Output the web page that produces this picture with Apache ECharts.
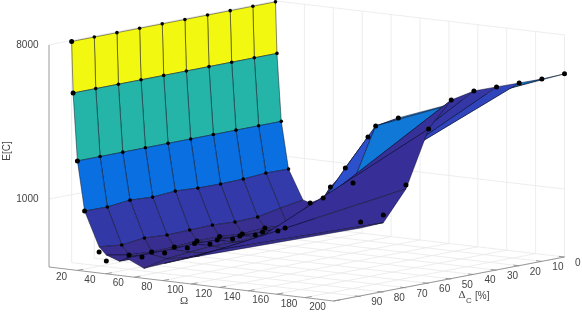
<!DOCTYPE html>
<html><head><meta charset="utf-8">
<style>html,body{margin:0;padding:0;background:#fff}#c{width:582px;height:312px}</style>
<script src="https://cdn.jsdelivr.net/npm/echarts@6/dist/echarts.min.js"></script>
</head><body><div id="c"></div>
<script>
// ---------- data ----------
var omegaRows = [0, 1, 4, 9, 19, 24, 33, 38, 50, 64, 85, 200];
var deltaCols = [90, 80, 70, 60, 50, 40, 30, 20, 10, 0];
var omegaTicks = [20, 40, 60, 80, 100, 120, 140, 160, 180, 200];
var deltaTicks = [0, 10, 20, 30, 40, 50, 60, 70, 80, 90];
var zTicks = [1000, 8000];
var surfR1  = [7900, 7900, 7900, 7900, 7900, 7900, 7900, 7900, 7900, 7900];
var surfR2  = [3950, 3950, 3950, 3950, 3950, 3950, 3950, 3950, 3950, 3950];
var surfR3  = [1590, 1590, 1590, 1590, 1590, 1590, 1590, 1590, 1590, 1590];
var surfR4  = [818, 815, 842, 827, 845, 830, 826, 832, 850, 845];
var surfR5  = [517, 499, 517, 507, 511, 515, 506, 510, 542, 570];
var surfR6  = [468, 442, 433, 437, 446, 446, 436, 445, 437, 554];
var surfR7  = [440, 438, 436, 440, 437, 441, 438, 436, 428, 604];
var surfR8  = [464, 464, 464, 472, 467, 465, 462, 460, 452, 710];
var surfR9  = [415, 445, 458, 468, 465, 475, 499, 510, 580, 938];
var surfR10 = [458, 465, 468, 466, 483, 500, 560, 702, 1033, 1478];
var surfR11 = [525, 543, 562, 583, 604, 659, 782, 940, 1910, 2005];
var surfR12 = [1009, 1021, 1517, 3210, 4470, 4760, 4740, 4708, 4680, 4730];
var surface = [surfR1, surfR2, surfR3, surfR4, surfR5, surfR6, surfR7, surfR8, surfR9, surfR10, surfR11, surfR12];
var _ = null;
var dotR1  = surfR1;
var dotR2  = surfR2;
var dotR3  = surfR3;
var dotR4  = surfR4;
var dotR5  = [482, 499, 517, 507, 511, 515, 506, 510, _, _];
var dotR6  = [432, 442, 433, 437, 446, 446, 436, 445, _, 554];
var dotR7  = [_, 438, 436, 440, 437, 441, 438, 436, _, 604];
var dotR8  = [_, _, _, 472, 467, 465, 462, 460, _, 710];
var dotR10 = [_, _, _, _, _, _, _, _, 1033, 1478];
var dotR11 = [_, _, _, _, _, _, _, 940, 1910, 2005];
var dotR12 = [1094, 1134, 1600, 3210, 4470, 4760, 4740, 4708, 4680, 4730];
var dots = [dotR1, dotR2, dotR3, dotR4, dotR5, dotR6, dotR7, dotR8, null, dotR10, dotR11, dotR12];
var colorZ = [400, 620, 830, 1033, 1400, 1590, 2000, 3950, 8000];
var colorHex = ['#3a2d86', '#36309a', '#3339a8', '#2d50cc', '#1f5fd6', '#0a6fe0', '#127cd6', '#25b5a8', '#f8fa0d'];

// ---------- projection of the 3-D axes box onto the page ----------
var Z_MIN = 400, Z_MAX = 8000;
function proj(om, de, z) {
  return [275.5 + 1.445 * om - 2.265 * de,
          223 + 0.17 * om + 0.44 * de - 170.7 * Math.log10(z / Z_MIN)];
}
// the box's front corner sits slightly inside the extrapolated data plane
function boxProj(om, de, z) {
  var p = proj(om, de, z);
  if (de > 90) p[0] -= (om / 200) * (de - 90) * 0.45;
  return p;
}
function rgb(h) { return [1, 3, 5].map(function (p) { return parseInt(h.substr(p, 2), 16); }); }
function colorOf(z) {
  for (var s = 1; s < colorZ.length; s++) {
    if (z <= colorZ[s]) {
      var t = (z - colorZ[s - 1]) / (colorZ[s] - colorZ[s - 1]);
      var a = rgb(colorHex[s - 1]), b = rgb(colorHex[s]);
      return 'rgb(' + a.map(function (v, n) { return Math.round(v + (b[n] - v) * t); }).join(',') + ')';
    }
  }
  return colorHex[colorHex.length - 1];
}

// ---------- box lines ----------
var gridLines = [];
function seg(o1, d1, z1, o2, d2, z2, kind) { gridLines.push([o1, d1, z1, o2, d2, z2, kind]); }
omegaTicks.forEach(function (o) {
  seg(o, 0, Z_MIN, o, 100, Z_MIN, 'g');
  seg(o, 0, Z_MIN, o, 0, Z_MAX, 'g');
});
deltaTicks.forEach(function (d) {
  seg(0, d, Z_MIN, 200, d, Z_MIN, 'g');
  seg(0, d, Z_MIN, 0, d, Z_MAX, 'g');
});
zTicks.forEach(function (z) {
  seg(0, 100, z, 0, 0, z, 'g');
  seg(0, 0, z, 200, 0, z, 'g');
});
seg(0, 100, Z_MIN, 200, 100, Z_MIN, 'a');
seg(200, 100, Z_MIN, 200, 0, Z_MIN, 'a');
seg(0, 100, Z_MIN, 0, 100, Z_MAX, 'a');
omegaTicks.forEach(function (o) { seg(o, 100, Z_MIN, o, 97.5, Z_MIN, 'a'); });
deltaTicks.forEach(function (d) { seg(200, d, Z_MIN, 196, d, Z_MIN, 'a'); });

// ---------- surface quads, far to near ----------
var quads = [];
for (var i = 0; i < omegaRows.length - 1; i++) {
  for (var j = deltaCols.length - 2; j >= 0; j--) quads.push([i, j]);
}

// ---------- dots ----------
var dotData = [];
dots.forEach(function (row, r) {
  if (!row) return;
  row.forEach(function (z, k) {
    if (z === null) return;
    var big = (k === 0 && r < 6) || r >= 5;
    dotData.push({ value: proj(omegaRows[r], deltaCols[k], z), symbolSize: big ? 5 : 3.6 });
  });
});

// ---------- tick labels ----------
var FONT = '"Liberation Sans", Arial, sans-serif';
var TXT = '#444';
var texts = [];
omegaTicks.forEach(function (o) {
  var p = boxProj(o, 100, Z_MIN);
  texts.push({ t: String(o), x: p[0] - 16, y: p[1] + 6.5, a: 'center' });
});
deltaTicks.forEach(function (d) {
  var p = proj(200, d, Z_MIN);
  texts.push({ t: String(d), x: p[0] + 10.5, y: p[1] + 6, a: 'left' });
});
zTicks.forEach(function (z) {
  var p = boxProj(0, 100, z);
  texts.push({ t: String(z), x: 38.5, y: p[1], a: 'right' });
});
texts.push({ t: 'Ω', x: 184, y: 301, a: 'center', f: '"Liberation Serif", serif', s: 11 });
texts.push({ t: 'Δ', x: 462, y: 295.5, a: 'center', s: 11, f: '"Liberation Serif", serif' });
texts.push({ t: 'C', x: 469, y: 300.5, a: 'center', s: 8 });
texts.push({ t: '[%]', x: 475, y: 296, a: 'left' });
texts.push({ t: 'E[C]', x: 7, y: 151, a: 'center', r: Math.PI / 2 });

function pt(api, p) { return api.coord(p); }

var chart = echarts.init(document.getElementById('c'), null, { renderer: 'canvas' });
chart.setOption({
  animation: false,
  backgroundColor: '#fff',
  grid: { left: 0, right: 0, top: 0, bottom: 0 },
  xAxis: { type: 'value', min: 0, max: 582, show: false },
  yAxis: { type: 'value', min: 0, max: 312, inverse: true, show: false },
  series: [
    {
      type: 'custom', coordinateSystem: 'cartesian2d', silent: true, clip: false,
      data: gridLines.map(function (g, n) { return [n]; }),
      renderItem: function (params, api) {
        var g = gridLines[api.value(0)];
        var a = pt(api, boxProj(g[0], g[1], g[2])), b = pt(api, boxProj(g[3], g[4], g[5]));
        return {
          type: 'line', shape: { x1: a[0], y1: a[1], x2: b[0], y2: b[1] },
          style: { stroke: g[6] === 'a' ? '#8f8f8f' : '#e9e9e9', lineWidth: g[6] === 'a' ? 0.9 : 0.8 }
        };
      }
    },
    {
      type: 'custom', coordinateSystem: 'cartesian2d', silent: true, clip: false,
      data: quads,
      renderItem: function (params, api) {
        var r = api.value(0), k = api.value(1);
        var pts = [[r, k], [r + 1, k], [r + 1, k + 1], [r, k + 1]].map(function (c) {
          return pt(api, proj(omegaRows[c[0]], deltaCols[c[1]], surface[c[0]][c[1]]));
        });
        return {
          type: 'polygon', shape: { points: pts },
          style: { fill: colorOf(surface[r][k + 1]), stroke: 'rgba(10,10,30,0.8)', lineWidth: 0.6, lineJoin: 'round' }
        };
      }
    },
    {
      type: 'scatter', coordinateSystem: 'cartesian2d', silent: true, clip: false,
      data: dotData, itemStyle: { color: '#000', opacity: 1 }
    },
    {
      type: 'custom', coordinateSystem: 'cartesian2d', silent: true, clip: false,
      data: texts.map(function (t, n) { return [n]; }),
      renderItem: function (params, api) {
        var t = texts[api.value(0)];
        var p = pt(api, [t.x, t.y]);
        return {
          type: 'text', x: p[0], y: p[1], rotation: t.r || 0,
          style: {
            text: t.t, fill: TXT, align: t.a, verticalAlign: 'middle',
            font: (t.s || 10) + 'px ' + (t.f || FONT)
          }
        };
      }
    }
  ]
});
</script></body></html>
